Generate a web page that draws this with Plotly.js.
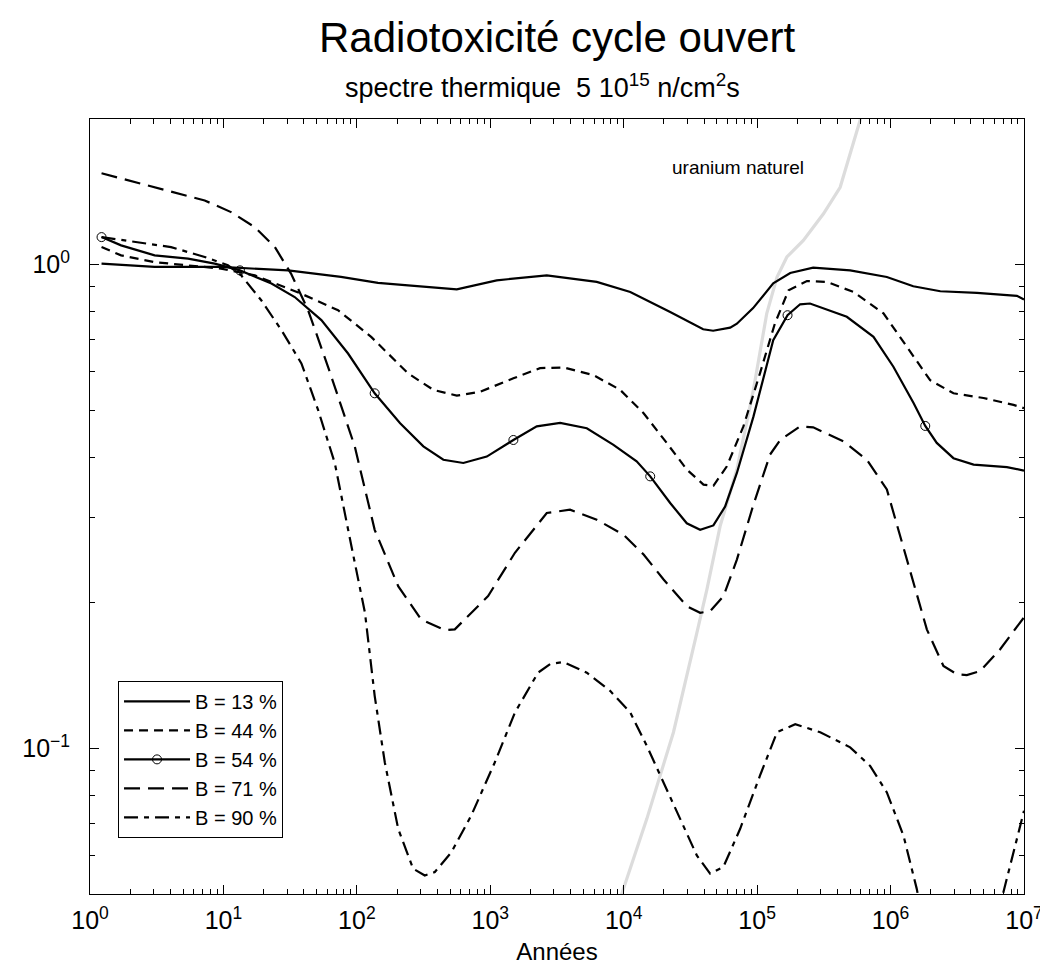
<!DOCTYPE html>
<html>
<head>
<meta charset="utf-8">
<script src="https://cdn.plot.ly/plotly-3.0.1.min.js"></script>
<style>html,body{margin:0;padding:0;background:#fff;}#chart{width:1040px;height:971px;}</style>
</head>
<body>
<div id="chart"></div>
<script>
// ---- data ----
const b13Years = [1.22, 3.05, 9.6, 30.5, 76, 144, 242, 561, 1117, 2650, 6280, 11200, 22300, 39400, 46800, 62800, 70500, 93300, 132000, 177000, 263000, 498000, 938000, 1480000, 2360000, 4440000, 8850000, 10000000];
const b13Vals  = [1.005, 0.989, 0.989, 0.973, 0.943, 0.917, 0.906, 0.889, 0.928, 0.950, 0.921, 0.878, 0.798, 0.735, 0.730, 0.741, 0.755, 0.813, 0.915, 0.961, 0.986, 0.973, 0.943, 0.902, 0.881, 0.874, 0.862, 0.847];

const b44Years = [1.22, 1.71, 3.05, 5.43, 9.6, 17.2, 38.2, 72.3, 128, 242, 374, 561, 839, 1490, 2360, 3530, 5930, 9400, 14100, 21000, 29700, 39600, 47000, 59300, 78900, 105000, 136000, 172000, 236000, 333000, 527000, 885000, 1320000, 1980000, 2960000, 4970000, 8340000, 10000000];
const b44Vals  = [1.087, 1.045, 1.012, 0.997, 0.981, 0.950, 0.871, 0.805, 0.709, 0.596, 0.551, 0.536, 0.546, 0.582, 0.611, 0.613, 0.591, 0.551, 0.493, 0.428, 0.377, 0.351, 0.349, 0.383, 0.463, 0.596, 0.756, 0.885, 0.925, 0.921, 0.878, 0.793, 0.676, 0.577, 0.542, 0.530, 0.513, 0.505];

const b54Years = [1.22, 1.71, 3.05, 5.43, 8.6, 13.3, 22.9, 34.2, 54.2, 85.9, 136, 211, 315, 445, 628, 941, 1490, 2230, 3340, 5290, 8380, 12500, 15800, 22300, 29700, 37400, 47000, 57500, 70500, 93800, 132000, 169000, 210000, 249000, 470000, 745000, 1050000, 1490000, 1820000, 2220000, 2960000, 4190000, 7450000, 10000000];
const b54Vals  = [1.14, 1.096, 1.045, 1.029, 1.005, 0.973, 0.914, 0.857, 0.768, 0.655, 0.542, 0.470, 0.421, 0.395, 0.389, 0.401, 0.434, 0.463, 0.471, 0.459, 0.424, 0.392, 0.365, 0.3215, 0.292, 0.283, 0.289, 0.316, 0.371, 0.485, 0.698, 0.786, 0.828, 0.831, 0.780, 0.709, 0.615, 0.517, 0.464, 0.428, 0.398, 0.386, 0.3815, 0.375];
const b54CircleYears = [1.22, 13.3, 136, 1490, 15800, 169000, 1820000];

const b71Years = [1.22, 1.93, 4.05, 7.24, 11.4, 17.2, 24.3, 32.1, 43.1, 60.8, 96.4, 136, 204, 303, 456, 542, 963, 1530, 2650, 3960, 6280, 9950, 14100, 19900, 29700, 37400, 44400, 55900, 70500, 93800, 125000, 149000, 210000, 263000, 444000, 664000, 938000, 1320000, 1870000, 2490000, 3140000, 3730000, 4700000, 6630000, 8850000, 10000000];
const b71Vals  = [1.545, 1.493, 1.412, 1.357, 1.284, 1.195, 1.087, 0.958, 0.805, 0.615, 0.421, 0.283, 0.2165, 0.1848, 0.1756, 0.1762, 0.2065, 0.2537, 0.3066, 0.3114, 0.2970, 0.2766, 0.2516, 0.2234, 0.1968, 0.1907, 0.1921, 0.2063, 0.2456, 0.319, 0.405, 0.434, 0.463, 0.461, 0.431, 0.395, 0.343, 0.2456, 0.1762, 0.148, 0.1423, 0.1417, 0.1445, 0.1603, 0.179, 0.1866];

const b90Years = [1.22, 2.29, 4.05, 7.24, 10.8, 13.6, 19.2, 27.2, 38.4, 51.2, 68.3, 91, 115, 136, 162, 204, 264, 323, 384, 511, 721, 1080, 1530, 2280, 2810, 3530, 5290, 7910, 11200, 14900, 19900, 26500, 35300, 44400, 55900, 74600, 105000, 141000, 193000, 297000, 498000, 703000, 938000, 1250000, 1570000, 1980000, 3330000, 5580000, 6980000, 8850000, 10000000];
const b90Vals  = [1.14, 1.113, 1.087, 1.037, 0.997, 0.950, 0.844, 0.732, 0.625, 0.501, 0.389, 0.262, 0.1907, 0.1284, 0.0935, 0.0682, 0.0564, 0.0546, 0.0555, 0.0610, 0.0727, 0.0935, 0.1186, 0.1434, 0.1493, 0.1509, 0.1434, 0.1315, 0.1186, 0.1012, 0.0851, 0.0715, 0.0601, 0.0551, 0.0569, 0.0682, 0.0878, 0.108, 0.1122, 0.108, 0.1005, 0.092, 0.0811, 0.066, 0.0513, 0.0368, 0.0304, 0.0368, 0.0502, 0.065, 0.0743];

const uraniumYears = [8000, 9680, 14900, 23600, 35300, 42000, 52800, 70500, 93800, 118000, 141000, 167000, 222000, 314000, 419000, 592000, 700000];
const uraniumVals  = [0.04, 0.0501, 0.0715, 0.108, 0.173, 0.213, 0.288, 0.377, 0.551, 0.792, 0.943, 1.037, 1.122, 1.274, 1.445, 1.99, 2.6];

const seriesNames = ['B = 13 %', 'B = 44 %', 'B = 54 %', 'B = 71 %', 'B = 90 %'];
const uraniumLabel = 'uranium naturel';
const titleText = 'Radiotoxicité cycle ouvert';
const subtitleText = 'spectre thermique\u00a0 5 10<sup>15</sup> n/cm<sup>2</sup>s';
const xTitleText = 'Années';
const xTickVals = [1, 10, 100, 1000, 10000, 100000, 1000000, 10000000];
const xTickText = ['10<sup>0</sup>', '10<sup>1</sup>', '10<sup>2</sup>', '10<sup>3</sup>', '10<sup>4</sup>', '10<sup>5</sup>', '10<sup>6</sup>', '10<sup>7</sup>'];
const yTickVals = [0.1, 1];
const yTickText = ['10<sup>\u22121</sup>', '10<sup>0</sup>'];

// ---- chart ----
const FONT = 'Liberation Sans, Arial, Helvetica, sans-serif';
const LW = 2.2;

const circleColors = b54Years.map(function (y) {
  return b54CircleYears.indexOf(y) >= 0 ? 'black' : 'rgba(0,0,0,0)';
});

const traces = [
  {x: uraniumYears, y: uraniumVals, mode: 'lines', name: uraniumLabel, showlegend: false,
   line: {color: '#dcdcdc', width: 3.2}, hoverinfo: 'skip'},
  {x: b13Years, y: b13Vals, mode: 'lines', name: seriesNames[0],
   line: {color: 'black', width: LW, dash: 'solid'}},
  {x: b44Years, y: b44Vals, mode: 'lines', name: seriesNames[1],
   line: {color: 'black', width: LW, dash: '9px,6px'}},
  {x: b54Years, y: b54Vals, mode: 'lines+markers', name: seriesNames[2],
   line: {color: 'black', width: LW, dash: 'solid'},
   marker: {symbol: 'circle-open', size: 9, color: circleColors, line: {width: 1}}},
  {x: b71Years, y: b71Vals, mode: 'lines', name: seriesNames[3],
   line: {color: 'black', width: LW, dash: '16px,8px'}},
  {x: b90Years, y: b90Vals, mode: 'lines', name: seriesNames[4],
   line: {color: 'black', width: LW, dash: '14px,6px,5px,6px'}}
];

const axisCommon = {
  type: 'log',
  showgrid: false,
  zeroline: false,
  showline: true,
  linecolor: 'black',
  linewidth: 1,
  mirror: 'allticks',
  ticks: 'inside',
  ticklen: 9,
  tickwidth: 1,
  tickcolor: 'black',
  tickmode: 'array',
  ticklabeloverflow: 'allow',
  tickfont: {family: FONT, size: 25, color: 'black'},
  minor: {ticks: 'inside', ticklen: 5, tickwidth: 1, tickcolor: 'black', dtick: 'D1', showgrid: false}
};

const layout = {
  width: 1040, height: 971,
  margin: {l: 90, r: 16, t: 119, b: 77},
  paper_bgcolor: 'white', plot_bgcolor: 'white',
  font: {family: FONT, color: 'black'},
  xaxis: Object.assign({}, axisCommon, {
    range: [-0.0001, 7.0001],
    tickvals: xTickVals, ticktext: xTickText,
    ticklabelstandoff: 4,
    title: {text: xTitleText, font: {family: FONT, size: 24, color: 'black'}, standoff: 10}
  }),
  yaxis: Object.assign({}, axisCommon, {
    range: [Math.log10(0.05), Math.log10(2)],
    tickvals: yTickVals, ticktext: yTickText,
    ticklabelstandoff: 14
  }),
  showlegend: true,
  legend: {
    x: 0.03, y: 0.275, xanchor: 'left', yanchor: 'top',
    bgcolor: 'white', bordercolor: 'black', borderwidth: 1,
    font: {family: FONT, size: 20, color: 'black'},
    itemwidth: 66,
    entrywidth: 170,
    tracegroupgap: 0
  },
  annotations: [
    {x: 0.5, y: 1.105, xref: 'paper', yref: 'paper', xanchor: 'center', yanchor: 'middle',
     text: titleText, showarrow: false,
     font: {family: FONT, size: 42, color: 'black'}},
    {x: 0.484, y: 1.042, xref: 'paper', yref: 'paper', xanchor: 'center', yanchor: 'middle',
     text: subtitleText, showarrow: false,
     font: {family: FONT, size: 27, color: 'black'}},
    {x: Math.log10(72100), y: Math.log10(1.587), xref: 'x', yref: 'y',
     text: uraniumLabel, showarrow: false,
     font: {family: FONT, size: 19, color: 'black'}}
  ]
};

Plotly.newPlot('chart', traces, layout, {staticPlot: true, displayModeBar: false});
</script>
</body>
</html>
